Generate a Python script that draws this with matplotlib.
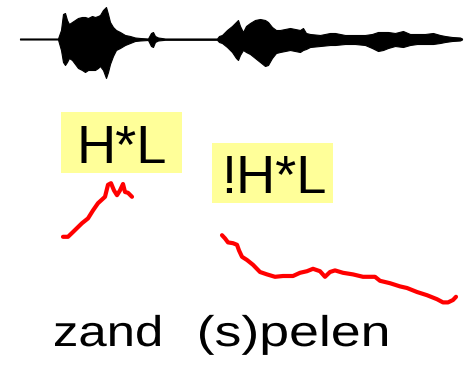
import matplotlib
matplotlib.use("Agg")
import matplotlib.pyplot as plt
from matplotlib.patches import Rectangle, PathPatch
from matplotlib.textpath import TextPath
from matplotlib.font_manager import FontProperties
from matplotlib.transforms import Affine2D, IdentityTransform

# --- waveform envelope (time in ms, upper / lower amplitude, arbitrary units)
wave_t = [0, 114, 123, 129, 135, 141, 147, 156, 165, 174, 186, 195, 204, 216,
          225, 234, 240, 249, 258, 264, 270, 279, 288, 300, 315, 330, 345, 360,
          384, 393, 399, 405, 414, 435, 591, 597, 606, 621, 636, 648, 654, 660,
          669, 678, 690, 705, 720, 735, 744, 756, 768, 780, 795, 810, 825, 840,
          849, 858, 870, 900, 930, 945, 975, 1005, 1035, 1056, 1074, 1089, 1104,
          1125, 1149, 1170, 1191, 1215, 1239, 1260, 1275, 1296, 1320, 1326]
wave_up = [0.5, 0.5, 9, 25, 26, 19, 15, 17, 19, 21, 22, 22, 21, 23,
           22, 23, 24, 29, 32, 25, 17, 12, 9, 7, 4, 3, 1.5, 1,
           0.5, 6, 7, 3, 1.5, 0.5, 0.5, 3, 4, 9, 13, 17, 19, 13,
           7, 13, 16, 19, 20, 19, 17, 12, 9, 9, 10, 11, 10, 9,
           11, 6, 5, 4, 6, 6, 4, 4, 4, 5, 7, 7, 7,
           6, 8, 5, 5, 5, 6, 4, 3, 2, 1.5, 0.5]
wave_lo = [0.5, 0.5, 11, 23, 26, 23, 19, 21, 25, 29, 31, 33, 31, 31,
           31, 29, 27, 31, 39, 33, 25, 17, 11, 9, 6, 4, 2, 1.5,
           1, 7, 8, 3, 1.5, 0.8, 0.8, 3, 4, 8, 13, 19, 21, 16,
           11, 13, 15, 19, 23, 27, 26, 19, 14, 13, 12, 11, 12, 13,
           11, 10, 8, 7, 6, 6, 5, 5, 6, 9, 12, 11, 9,
           7, 8, 6, 5, 5, 5, 4, 3, 2, 1.5, 0.5]

# --- F0 contours (time in ms, frequency in Hz)
f0_1_t = [129, 144, 159, 186, 204, 219, 234, 255, 264, 273, 282, 291, 300,
          309, 315, 324, 336]
f0_1_hz = [179, 179, 185, 196, 202, 212, 221, 229, 244, 246, 237, 231, 237,
           245, 235, 234, 229]
f0_2_t = [606, 615, 624, 639, 651, 657, 666, 681, 699, 720, 741, 765, 789,
          819, 840, 861, 879, 900, 915, 930, 945, 969, 999, 1029, 1065, 1080,
          1110, 1140, 1161, 1191, 1221, 1251, 1269, 1284, 1299, 1308]
f0_2_hz = [181, 177, 172, 171, 169, 162, 154, 150, 144, 135, 132, 129, 130,
           130, 134, 136, 139, 136, 129, 135, 137, 134, 132, 129, 129, 124,
           121, 117, 115, 110, 106, 101, 97, 97, 100, 104]

# --- annotations
accent_labels = ["H*L", "!H*L"]
words = ["zand", "(s)pelen"]

W, H = 470, 365
fig = plt.figure(figsize=(W / 100, H / 100), dpi=100)
fig.patch.set_facecolor("white")

T_LIM = (-60, 1350)

ax_w = fig.add_axes([0, 0, 1, 1])
ax_w.set_xlim(*T_LIM)
ax_w.set_ylim(-326, 39)
ax_w.fill_between(wave_t, wave_up, [-l for l in wave_lo],
                  color="black", linewidth=0.8, edgecolor="black")
ax_w.axis("off")

ax_p = fig.add_axes([0, 0, 1, 1])
ax_p.patch.set_alpha(0)
ax_p.set_xlim(*T_LIM)
ax_p.set_ylim(18.75, 475)
for t, hz in ((f0_1_t, f0_1_hz), (f0_2_t, f0_2_hz)):
    ax_p.plot(t, hz, color="#ff0000", linewidth=3.0,
              solid_capstyle="round", solid_joinstyle="round")
ax_p.axis("off")


def px(x, y):
    return x / W, 1 - y / H


font = ["Liberation Sans", "DejaVu Sans"]

# accent label boxes
boxes = [(61, 112, 182, 173, 122, 163), (212, 143, 333, 203, 274, 193)]
for lab, (x0, y0, x1, y1, cx, by) in zip(accent_labels, boxes):
    fx0, fy1 = px(x0, y1)
    fx1, fy0 = px(x1, y0)
    fig.patches.append(Rectangle((fx0, fy1), fx1 - fx0, fy0 - fy1,
                                 transform=fig.transFigure,
                                 facecolor="#ffff99", edgecolor="none"))
    fig.text(*px(cx, by), lab, ha="center", va="baseline",
             fontsize=39, family=font, color="black")

# word labels: slightly widened sans-serif, laid out in pixel space
word_prop = FontProperties(family="Liberation Sans")


def wide_word(s, left, right, baseline, em):
    path = TextPath((0, 0), s, size=em, prop=word_prop)
    ext = path.get_extents()
    sx = (right - left) / ext.width
    tr = (Affine2D().translate(-ext.x0, 0).scale(sx, 1)
          .translate(left, H - baseline))
    patch = PathPatch(tr.transform_path(path), facecolor="black",
                      edgecolor="none", transform=IdentityTransform())
    fig.patches.append(patch)


wide_word(words[0], 55, 160, 346, 43)
wide_word(words[1], 200, 387, 346, 43)

fig.savefig("out.png", dpi=100, facecolor="white")
